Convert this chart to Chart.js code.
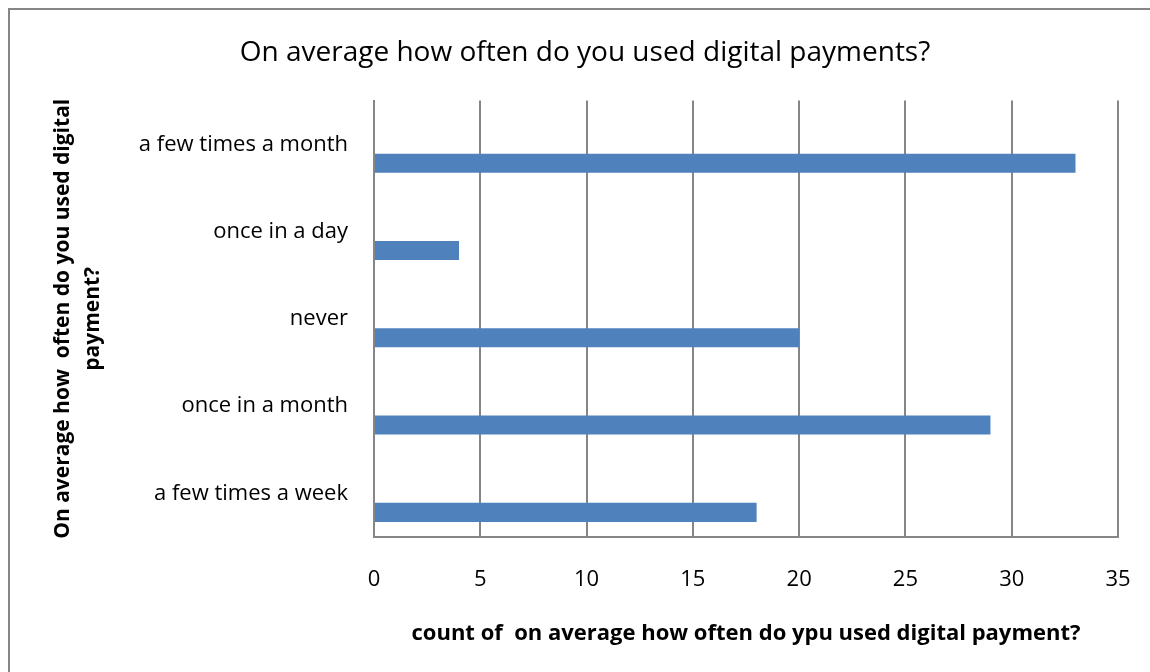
<!DOCTYPE html>
<html>
<head>
<meta charset="utf-8">
<script src="https://cdn.jsdelivr.net/npm/chart.js@4"></script>
<style>
  body { margin: 0; background: #fff; }
  canvas { display: block; }
</style>
</head>
<body>
<canvas id="usageChart" width="1150" height="672"></canvas>
<script>
const categories = ['a few times a month', 'once in a day', 'never', 'once in a month', 'a few times a week'];
const counts = [33, 4, 20, 29, 18];
// two blank series so the real bars sit in the lower slot of each band
const blankA = [null, null, null, null, null];
const blankB = [null, null, null, null, null];
const xMax = 35;
const xStep = 5;

const chartTitle = 'On average how often do you used digital payments?';
const yTitle = ['On average how  often do you used digital', 'payment?'];
const xTitle = 'count of  on average how often do ypu used digital payment?';

const gridColor = '#868686';
const barColor = '#4F81BD';
const fontFamily = "'Open Sans', sans-serif";

// outer frame of the chart box
const frame = {
  id: 'frame',
  beforeDraw(chart) {
    const c = chart.ctx;
    c.save();
    c.fillStyle = '#fff';
    c.fillRect(0, 0, chart.width, chart.height);
    c.strokeStyle = gridColor;
    c.lineWidth = 2;
    c.strokeRect(9, 9, 1200, 700);
    c.restore();
  }
};

const ctx = document.getElementById('usageChart');
new Chart(ctx, {
  type: 'bar',
  data: {
    labels: categories,
    datasets: [
      { label: '', data: blankA, backgroundColor: barColor },
      { label: '', data: blankB, backgroundColor: barColor },
      { label: 'Total', data: counts, backgroundColor: barColor, borderWidth: 0 }
    ]
  },
  options: {
    indexAxis: 'y',
    responsive: false,
    animation: false,
    categoryPercentage: 0.654,
    barPercentage: 1,
    layout: { padding: { left: 20, right: 0, top: 0, bottom: 0 } },
    plugins: {
      legend: { display: false },
      tooltip: { enabled: false },
      title: {
        display: true,
        text: chartTitle,
        color: '#000',
        font: { family: fontFamily, size: 28, weight: 'normal', lineHeight: 1.2 },
        padding: { top: 36, bottom: 31 }
      }
    },
    scales: {
      x: {
        min: 0,
        max: xMax,
        ticks: {
          stepSize: xStep,
          color: '#000',
          padding: 0,
          font: { family: fontFamily, size: 22 }
        },
        // invisible tick marks push the labels down without widening the side padding
        grid: { color: gridColor, lineWidth: 2, drawTicks: true, tickLength: 30, tickColor: 'rgba(0,0,0,0)' },
        border: { color: gridColor, width: 2 },
        title: {
          display: true,
          text: xTitle,
          color: '#000',
          font: { family: fontFamily, size: 22, weight: 'bold', lineHeight: 1.2 },
          padding: { top: 0, bottom: 25 }
        },
        afterFit(scale) {
          scale.height = 135;
          scale.paddingRight = 32;
        }
      },
      y: {
        ticks: {
          color: '#000',
          padding: 26,
          font: { family: fontFamily, size: 22 }
        },
        grid: { display: false, drawTicks: false },
        border: { color: gridColor, width: 2 },
        title: {
          display: true,
          text: yTitle,
          color: '#000',
          font: { family: fontFamily, size: 21, weight: 'bold', lineHeight: '30px' },
          padding: { top: 28, bottom: 0 }
        },
        afterFit(scale) { scale.width = 354; }
      }
    }
  },
  plugins: [frame]
});
</script>
</body>
</html>
